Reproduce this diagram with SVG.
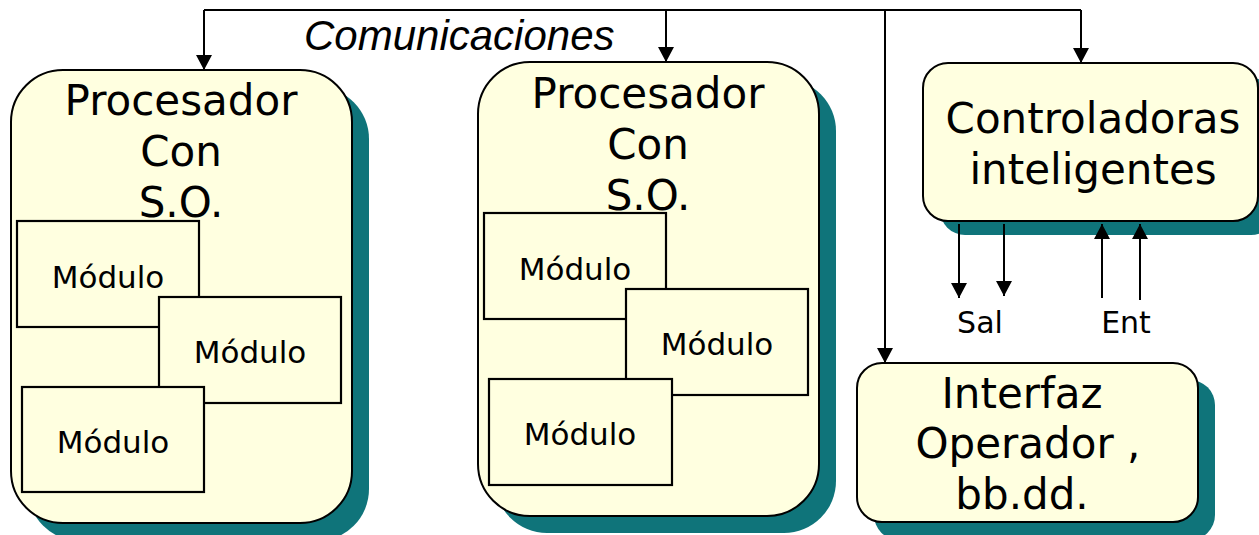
<svg xmlns="http://www.w3.org/2000/svg" width="1259" height="535" viewBox="0 0 1259 535">
<defs>
<style>
.shadow{fill:#0f747a;stroke:none}
.box{fill:#ffffe0;stroke:#000;stroke-width:2}
.mod{fill:#ffffe0;stroke:#000;stroke-width:2.2}
.big{font-family:"DejaVu Sans",Verdana,sans-serif;font-size:42px;fill:#000;text-anchor:middle}
.small{font-family:"DejaVu Sans",Verdana,sans-serif;font-size:31px;fill:#000;text-anchor:middle}
.io{font-family:"DejaVu Sans",Verdana,sans-serif;font-size:30px;fill:#000;text-anchor:middle}
.com{font-family:"Liberation Sans",Arial,sans-serif;font-size:42px;font-style:italic;fill:#000}
.wire{fill:none;stroke:#000;stroke-width:2}
</style>
<marker id="ah" viewBox="0 0 15 16" refX="15" refY="8" markerWidth="15" markerHeight="16" markerUnits="userSpaceOnUse" orient="auto">
<path d="M0,0 L15,8 L0,16 Z" fill="#000"/>
</marker>
</defs>
<g id="proc1">
<rect class="shadow" x="28" y="87" width="341" height="454" rx="52"/>
<rect class="box" x="11" y="70" width="341" height="453" rx="52"/>
<text class="big" x="181" y="115">Procesador</text>
<text class="big" x="181" y="166">Con</text>
<text class="big" x="181" y="217">S.O.</text>
<g id="p1m1"><rect class="mod" x="17" y="221" width="182" height="106"/><text class="small" x="108" y="288">Módulo</text></g>
<g id="p1m2"><rect class="mod" x="159" y="297" width="182" height="106"/><text class="small" x="250" y="363">Módulo</text></g>
<g id="p1m3"><rect class="mod" x="22" y="387" width="182" height="105"/><text class="small" x="113" y="453">Módulo</text></g>
</g>
<g id="proc2">
<rect class="shadow" x="495" y="79" width="341" height="454" rx="52"/>
<rect class="box" x="478" y="62" width="341" height="454" rx="52"/>
<text class="big" x="648" y="108">Procesador</text>
<text class="big" x="648" y="159">Con</text>
<text class="big" x="648" y="210">S.O.</text>
<g id="p2m1"><rect class="mod" x="484" y="213" width="182" height="106"/><text class="small" x="575" y="280">Módulo</text></g>
<g id="p2m2"><rect class="mod" x="626" y="289" width="182" height="106"/><text class="small" x="717" y="355">Módulo</text></g>
<g id="p2m3"><rect class="mod" x="489" y="379" width="183" height="106"/><text class="small" x="580" y="445">Módulo</text></g>
</g>
<g id="ctrl">
<rect class="shadow" x="940" y="78" width="336" height="157" rx="25"/>
<rect class="box" x="923" y="63" width="335" height="158" rx="25"/>
<text class="big" x="1093" y="133">Controladoras</text>
<text class="big" x="1093" y="184">inteligentes</text>
</g>
<g id="iface">
<rect class="shadow" x="874" y="380" width="341" height="160" rx="25"/>
<rect class="box" x="857" y="363" width="341" height="159" rx="25"/>
<text class="big" x="1022" y="408">Interfaz</text>
<text class="big" x="1028" y="458">Operador ,</text>
<text class="big" x="1022" y="509">bb.dd.</text>
</g>
<g id="labels">
<text class="com" x="304" y="50">Comunicaciones</text>
<text class="io" x="980" y="333">Sal</text>
<text class="io" x="1126" y="333">Ent</text>
</g>
<g id="connectors">
<path class="wire" d="M204,10 H1081"/>
<path class="wire" d="M204,10 V70" marker-end="url(#ah)"/>
<path class="wire" d="M666,10 V62" marker-end="url(#ah)"/>
<path class="wire" d="M885,10 V363" marker-end="url(#ah)"/>
<path class="wire" d="M1081,10 V63" marker-end="url(#ah)"/>
<path class="wire" d="M959,224 V298" marker-end="url(#ah)"/>
<path class="wire" d="M1004,224 V296" marker-end="url(#ah)"/>
<path class="wire" d="M1102,298 V224" marker-end="url(#ah)"/>
<path class="wire" d="M1140,300 V224" marker-end="url(#ah)"/>
</g>
</svg>
